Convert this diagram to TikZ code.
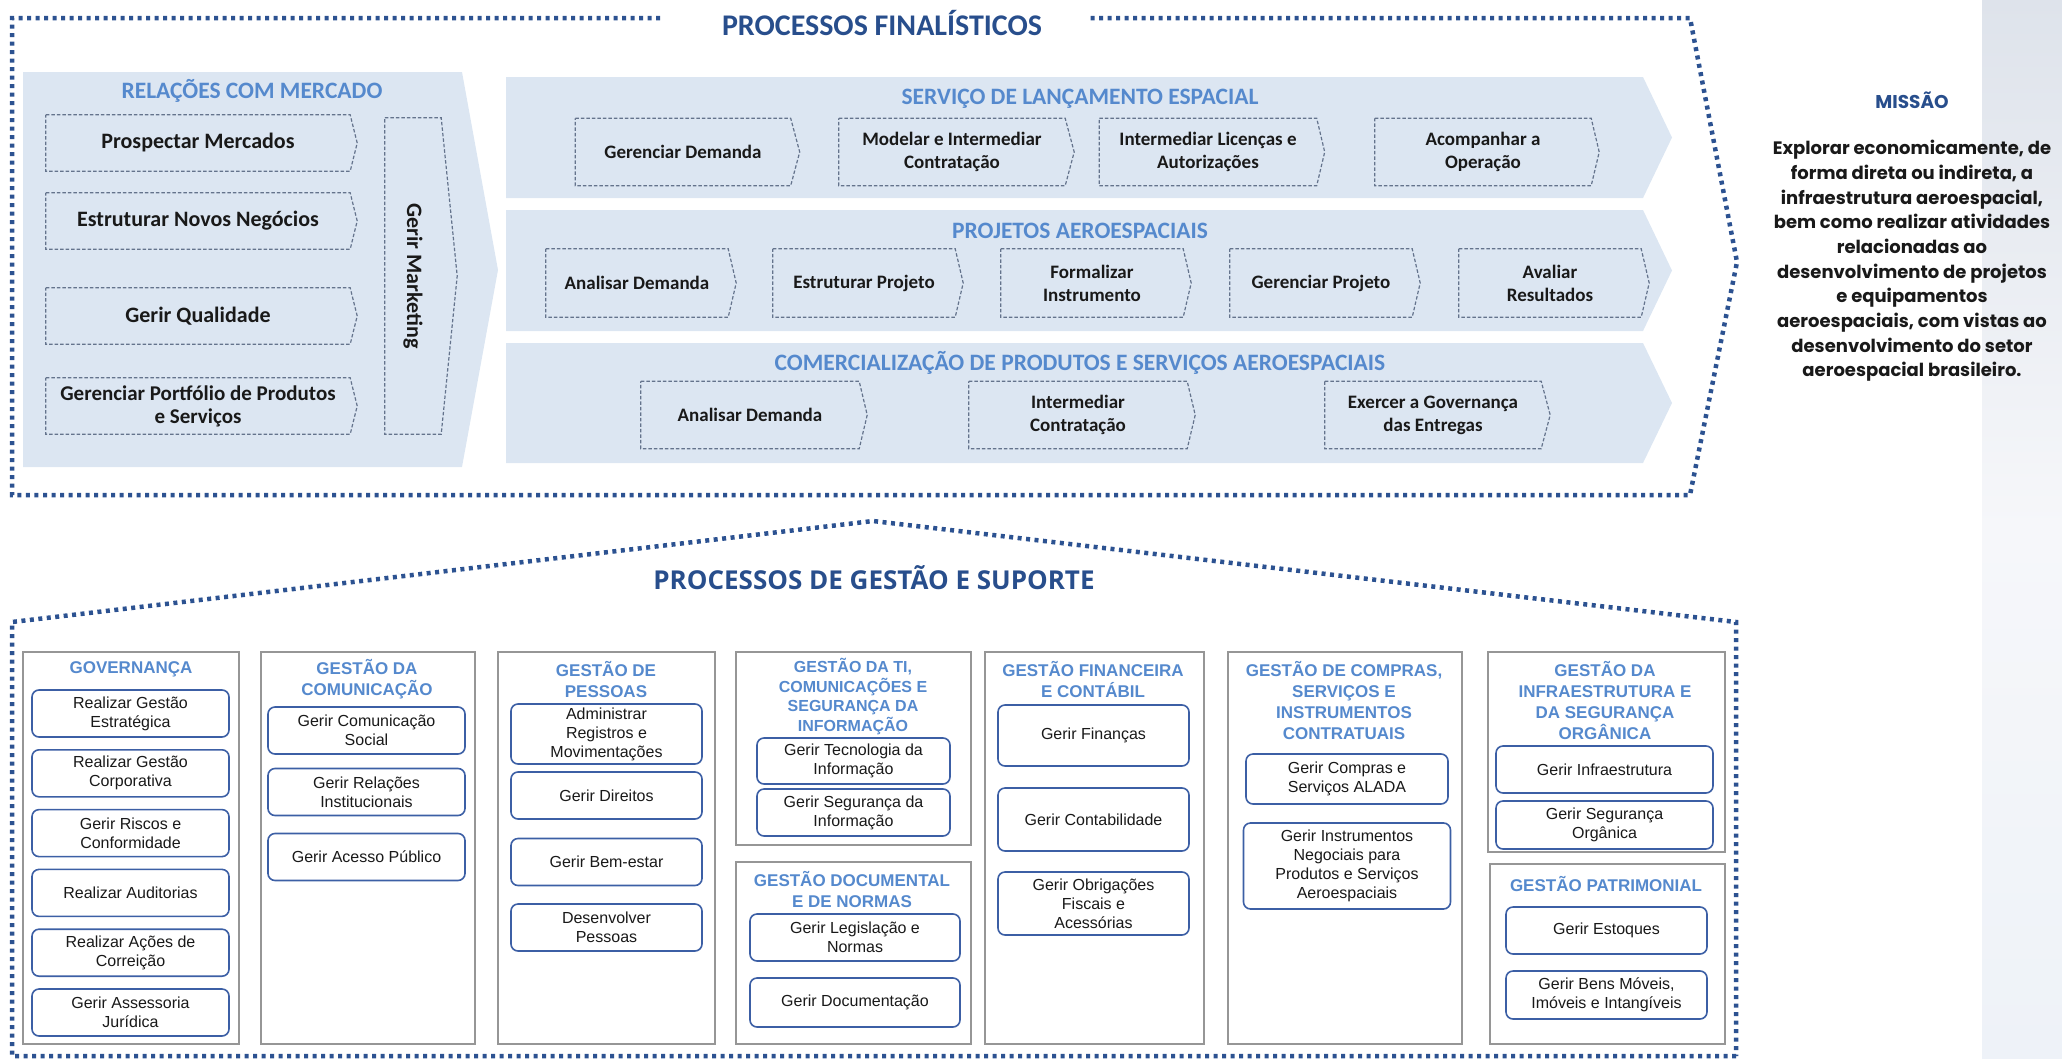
\documentclass[tikz,border=0pt]{standalone}
\usepackage{fontspec}
\setmainfont{Liberation Sans}
\newfontfamily\calibri{Carlito}
\newfontfamily\opensans{Open Sans}
\newfontfamily\gothic{Poppins}
\definecolor{dotblue}{RGB}{44,82,145}
\definecolor{darkblue}{RGB}{40,78,140}
\definecolor{subblue}{RGB}{85,137,205}
\definecolor{panelfill}{RGB}{220,230,242}
\definecolor{dashgray}{RGB}{100,115,140}
\definecolor{boxgray}{RGB}{150,150,150}
\definecolor{roundblue}{RGB}{60,95,165}
\definecolor{ink}{RGB}{25,25,25}
\definecolor{stripa}{RGB}{222,227,235}
\definecolor{stripb}{RGB}{238,242,248}
\definecolor{stripc}{RGB}{246,247,250}

\begin{document}
\begin{tikzpicture}[x=1pt,y=-1pt]
  \tikzstyle{dotline} = [dotblue,line width=4.5pt,dash pattern=on 4pt off 4.5pt]
  \tikzstyle{panel} = [fill=panelfill]
  \tikzstyle{head} = [text=subblue,font=\calibri\bfseries\fontsize{23.5}{26}\selectfont]
  \tikzstyle{task} = [rectangle,inner sep=0pt,align=center,text=ink,font=\calibri\bfseries\fontsize{19}{23}\selectfont,minimum height=67pt]
  \tikzstyle{dashline} = [dashgray,line width=1.2pt,dash pattern=on 3.5pt off 2pt]
  \tikzstyle{area} = [draw=boxgray,line width=1.6pt,rectangle,inner sep=0pt]
  \tikzstyle{areahead} = [text=subblue,align=center,font=\bfseries\fontsize{17}{21}\selectfont]
  \tikzstyle{proc} = [draw=roundblue,line width=1.6pt,rounded corners=7pt,fill=white,rectangle,inner sep=0pt,align=center,text=ink,font=\fontsize{16}{19}\selectfont,minimum height=47pt]

  \useasboundingbox (0,0) rectangle (2062,1058);
  \shade[top color=stripa,bottom color=stripb,middle color=stripc] (1982,0) rectangle (2062,1058);

  % processos finalisticos
  \node[text=darkblue,font=\calibri\bfseries\fontsize{30}{34}\selectfont] (finalistico) at (882,23) {PROCESSOS FINALÍSTICOS};
  \coordinate (fl) at (660,18);
  \coordinate (fr) at (1088,18);
  \draw[dotline] (fl) -- (12,18) -- (12,495) -- (1690,495) -- (1737,262) -- (1690,18) -- (fr);

  \fill[panel] (23,72) -- (462,72) -- (498,270) -- (462,467) -- (23,467) -- cycle;
  \fill[panel] (506,77) -- (1643,77) -- (1672,137.5) -- (1643,198) -- (506,198) -- cycle;
  \fill[panel] (506,210) -- (1643,210) -- (1672,270.5) -- (1643,331) -- (506,331) -- cycle;
  \fill[panel] (506,343) -- (1643,343) -- (1672,403) -- (1643,463) -- (506,463) -- cycle;

  \node[head] (rel) at (252,91) {RELAÇÕES COM MERCADO};
  \node[task,font=\calibri\bfseries\fontsize{22}{23}\selectfont,minimum width=304pt,minimum height=56pt] (pm) at (198,143) {Prospectar Mercados};
  \node[task,font=\calibri\bfseries\fontsize{22}{23}\selectfont,minimum width=304pt,minimum height=56pt,below of=pm,node distance=78pt] (enn) {Estruturar Novos Negócios};
  \node[task,font=\calibri\bfseries\fontsize{22}{23}\selectfont,minimum width=304pt,minimum height=56pt,below of=enn,node distance=95pt] (gq) {Gerir Qualidade};
  \node[task,font=\calibri\bfseries\fontsize{21}{23}\selectfont,minimum width=304pt,minimum height=56pt,below of=gq,node distance=90pt] (gpp) {Gerenciar Portfólio de Produtos\\e Serviços};
  \node[task,font=\calibri\bfseries\fontsize{22}{23}\selectfont,minimum width=56pt,minimum height=316pt] (mkt) at (413,276) {\rotatebox{-90}{Gerir Marketing}};

  \node[head] (serv) at (1080,99) {SERVIÇO DE LANÇAMENTO ESPACIAL};
  \node[task,minimum width=215pt] (gd) at (683,152) {Gerenciar Demanda};
  \node[task,minimum width=226pt,right of=gd,node distance=269pt] (mic) {Modelar e Intermediar\\Contratação};
  \node[task,minimum width=217pt,right of=mic,node distance=256pt] (ila) {Intermediar Licenças e\\Autorizações};
  \node[task,minimum width=216pt,right of=ila,node distance=275pt] (aop) {Acompanhar a\\Operação};

  \node[head] (proj) at (1080,231) {PROJETOS AEROESPACIAIS};
  \node[task,minimum width=182pt,minimum height=68pt] (ad1) at (637,283) {Analisar Demanda};
  \node[task,minimum width=182pt,minimum height=68pt,right of=ad1,node distance=227pt] (ep) {Estruturar Projeto};
  \node[task,minimum width=182pt,minimum height=68pt,right of=ep,node distance=228pt] (fi) {Formalizar\\Instrumento};
  \node[task,minimum width=182pt,minimum height=68pt,right of=fi,node distance=229pt] (gp) {Gerenciar Projeto};
  \node[task,minimum width=182pt,minimum height=68pt,right of=gp,node distance=229pt] (ar) {Avaliar\\Resultados};

  \node[head] (comer) at (1080,363) {COMERCIALIZAÇÃO DE PRODUTOS E SERVIÇOS AEROESPACIAIS};
  \node[task,minimum width=218pt] (ad2) at (750,415) {Analisar Demanda};
  \node[task,minimum width=218pt,right of=ad2,node distance=328pt] (ic) {Intermediar\\Contratação};
  \node[task,minimum width=216pt,right of=ic,node distance=355pt] (eg) {Exercer a Governança\\das Entregas};

  \foreach \n/\d in {pm/7pt,enn/7pt,gq/7pt,gpp/7pt,mkt/16pt,gd/9pt,mic/9pt,ila/8pt,aop/8pt,ad1/8pt,ep/8pt,fi/8pt,gp/8pt,ar/8pt,ad2/8pt,ic/8pt,eg/9pt}
    \draw[dashline] (\n.north west) -- (\n.north east) -- ([xshift=\d]\n.east) -- (\n.south east) -- (\n.south west) -- cycle;

  % missao
  \node[text=darkblue,font=\gothic\bfseries\fontsize{18.5}{20}\selectfont] (missao) at (1912,100) {MISSÃO};
  \node[text=ink,align=center,font=\gothic\bfseries\fontsize{18}{24.7}\selectfont] (missaotxt) at (1912,261) {Explorar economicamente, de\\forma direta ou indireta, a\\infraestrutura aeroespacial,\\bem como realizar atividades\\relacionadas ao\\desenvolvimento de projetos\\e equipamentos\\aeroespaciais, com vistas ao\\desenvolvimento do setor\\aeroespacial brasileiro.};

  % processos de gestao e suporte
  \draw[dotline] (1736,1056) -- (12,1056) -- (12,622) -- (873,521) -- (1736,622) -- cycle;
  \node[text=darkblue,font=\opensans\bfseries\fontsize{26}{30}\selectfont] (gestao) at (874,578) {PROCESSOS DE GESTÃO E SUPORTE};

  \node[area,minimum width=216pt,minimum height=392pt] (gov) at (131,848) {};
  \node[areahead] (govt) at (131,669) {GOVERNANÇA};
  \node[proc,minimum width=197pt] (gov1) at (130.5,713.5) {Realizar Gestão\\Estratégica};
  \node[proc,minimum width=197pt,below of=gov1,node distance=59.8pt] (gov2) {Realizar Gestão\\Corporativa};
  \node[proc,minimum width=197pt,below of=gov2,node distance=59.8pt] (gov3) {Gerir Riscos e\\Conformidade};
  \node[proc,minimum width=197pt,below of=gov3,node distance=59.8pt] (gov4) {Realizar Auditorias};
  \node[proc,minimum width=197pt,below of=gov4,node distance=59.8pt] (gov5) {Realizar Ações de\\Correição};
  \node[proc,minimum width=197pt,below of=gov5,node distance=59.8pt] (gov6) {Gerir Assessoria\\Jurídica};

  \node[area,minimum width=214pt,minimum height=392pt] (com) at (368,848) {};
  \node[areahead] (comt) at (367,679.5) {GESTÃO DA\\COMUNICAÇÃO};
  \node[proc,minimum width=197pt] (com1) at (366.5,730.5) {Gerir Comunicação\\Social};
  \node[proc,minimum width=197pt,below of=com1,node distance=61.5pt] (com2) {Gerir Relações\\Institucionais};
  \node[proc,minimum width=197pt,below of=com2,node distance=65pt] (com3) {Gerir Acesso Público};

  \node[area,minimum width=217pt,minimum height=392pt] (pes) at (606.5,848) {};
  \node[areahead] (pest) at (606,679.5) {GESTÃO DE\\PESSOAS};
  \node[proc,minimum width=191pt,minimum height=60pt] (pes1) at (606.5,734) {Administrar\\Registros e\\Movimentações};
  \node[proc,minimum width=191pt,below of=pes1,node distance=61.5pt] (pes2) {Gerir Direitos};
  \node[proc,minimum width=191pt,below of=pes2,node distance=66.5pt] (pes3) {Gerir Bem-estar};
  \node[proc,minimum width=191pt,below of=pes3,node distance=65.5pt] (pes4) {Desenvolver\\Pessoas};

  \node[area,minimum width=235pt,minimum height=193pt] (ti) at (853.5,748.5) {};
  \node[areahead,font=\bfseries\fontsize{16}{19.7}\selectfont] (tit) at (853,696.5) {GESTÃO DA TI,\\COMUNICAÇÕES E\\SEGURANÇA DA\\INFORMAÇÃO};
  \node[proc,minimum width=193pt,minimum height=46pt] (ti1) at (853.5,761) {Gerir Tecnologia da\\Informação};
  \node[proc,minimum width=193pt,below of=ti1,node distance=51.5pt] (ti2) {Gerir Segurança da\\Informação};

  \node[area,minimum width=235pt,minimum height=182pt] (doc) at (853.5,953) {};
  \node[areahead] (doct) at (852,889.5) {GESTÃO DOCUMENTAL\\E DE NORMAS};
  \node[proc,minimum width=210pt] (doc1) at (855,937.5) {Gerir Legislação e\\Normas};
  \node[proc,minimum width=210pt,minimum height=49pt,below of=doc1,node distance=65pt] (doc2) {Gerir Documentação};

  \node[area,minimum width=219pt,minimum height=392pt] (fin) at (1094.5,848) {};
  \node[areahead] (fint) at (1093,679.5) {GESTÃO FINANCEIRA\\E CONTÁBIL};
  \node[proc,minimum width=191pt,minimum height=61pt] (fin1) at (1093.5,735.5) {Gerir Finanças};
  \node[proc,minimum width=191pt,minimum height=63pt,below of=fin1,node distance=84pt] (fin2) {Gerir Contabilidade};
  \node[proc,minimum width=191pt,minimum height=63pt,below of=fin2,node distance=84pt] (fin3) {Gerir Obrigações\\Fiscais e\\Acessórias};

  \node[area,minimum width=234pt,minimum height=392pt] (cmp) at (1345,848) {};
  \node[areahead] (cmpt) at (1344,700.5) {GESTÃO DE COMPRAS,\\SERVIÇOS E\\INSTRUMENTOS\\CONTRATUAIS};
  \node[proc,minimum width=202pt,minimum height=50pt] (cmp1) at (1347,779) {Gerir Compras e\\Serviços ALADA};
  \node[proc,minimum width=207pt,minimum height=86pt,below of=cmp1,node distance=87pt] (cmp2) {Gerir Instrumentos\\Negociais para\\Produtos e Serviços\\Aeroespaciais};

  \node[area,minimum width=237pt,minimum height=200pt] (inf) at (1606.5,752) {};
  \node[areahead] (inft) at (1605,700.5) {GESTÃO DA\\INFRAESTRUTURA E\\DA SEGURANÇA\\ORGÂNICA};
  \node[proc,minimum width=217pt] (inf1) at (1604.5,769.5) {Gerir Infraestrutura};
  \node[proc,minimum width=217pt,minimum height=48pt,below of=inf1,node distance=55.5pt] (inf2) {Gerir Segurança\\Orgânica};

  \node[area,minimum width=235pt,minimum height=180pt] (pat) at (1607.5,954) {};
  \node[areahead] (patt) at (1606,884) {GESTÃO PATRIMONIAL};
  \node[proc,minimum width=201pt] (pat1) at (1606.5,930.5) {Gerir Estoques};
  \node[proc,minimum width=201pt,minimum height=48pt,below of=pat1,node distance=64.5pt] (pat2) {Gerir Bens Móveis,\\Imóveis e Intangíveis};
\end{tikzpicture}
\end{document}
